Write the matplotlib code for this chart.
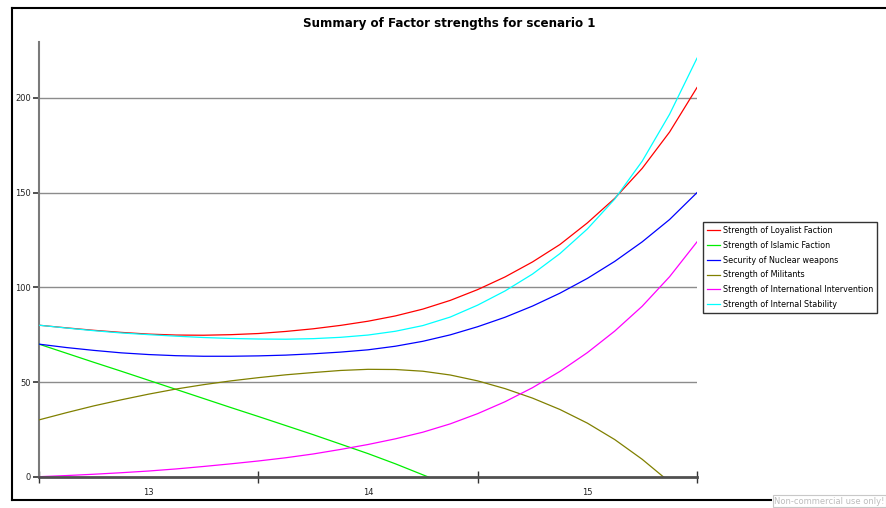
import matplotlib
matplotlib.use('Agg')
import matplotlib.pyplot as plt
import numpy as np
from matplotlib.lines import Line2D

# time axis (scenario steps)
steps = [12.5, 12.625, 12.75, 12.875, 13.0, 13.125, 13.25, 13.375, 13.5,
         13.625, 13.75, 13.875, 14.0, 14.125, 14.25, 14.375, 14.5,
         14.625, 14.75, 14.875, 15.0, 15.125, 15.25, 15.375, 15.5]

loyalist = [80.0, 78.6, 77.3, 76.2, 75.3, 74.8, 74.7, 75.0, 75.6,
            76.7, 78.1, 79.9, 82.1, 84.9, 88.5, 93.1, 98.8,
            105.5, 113.4, 122.6, 134.0, 147.0, 162.8, 182.0, 205.5]
islamic = [70.0, 65.2, 60.4, 55.7, 50.9, 46.1, 41.3, 36.5, 31.8,
           27.0, 22.2, 17.2, 12.2, 6.8, 1.0, -4.8, np.nan,
           np.nan, np.nan, np.nan, np.nan, np.nan, np.nan, np.nan, np.nan]
nuclear = [70.0, 68.2, 66.7, 65.4, 64.5, 63.9, 63.6, 63.6, 63.8,
           64.2, 64.9, 65.8, 67.0, 68.9, 71.5, 74.9, 79.2,
           84.2, 90.1, 96.9, 104.7, 113.7, 124.0, 135.8, 150.0]
militants = [30.0, 33.8, 37.4, 40.6, 43.6, 46.3, 48.6, 50.6, 52.3,
             53.8, 55.0, 56.1, 56.7, 56.6, 55.7, 53.7, 50.6,
             46.5, 41.5, 35.5, 28.3, 19.6, 9.2, -2.8, np.nan]
intervention = [0.0, 0.6, 1.3, 2.1, 3.0, 4.1, 5.4, 6.8, 8.3,
                10.0, 12.0, 14.4, 17.0, 20.0, 23.5, 27.9, 33.3,
                39.6, 47.0, 55.6, 65.5, 76.9, 90.0, 105.6, 124.0]
stability = [80.0, 78.5, 77.1, 75.9, 75.0, 74.2, 73.5, 73.0, 72.7,
             72.6, 72.9, 73.6, 74.8, 76.8, 79.8, 84.3, 90.6,
             98.1, 107.0, 117.8, 130.8, 146.6, 166.6, 191.4, 221.0]

series = [
    ('Strength of Loyalist Faction', loyalist, '#ff0000'),
    ('Strength of Islamic Faction', islamic, '#00ee00'),
    ('Security of Nuclear weapons', nuclear, '#0000ff'),
    ('Strength of Militants', militants, '#808000'),
    ('Strength of International Intervention', intervention, '#ff00ff'),
    ('Strength of Internal Stability', stability, '#00ffff'),
]

W, H = 886, 508
fig = plt.figure(figsize=(W / 100, H / 100), dpi=100)
fig.patch.set_facecolor('white')

ax = fig.add_axes([39 / W, (H - 476.7) / H, (697 - 39) / W, (476.7 - 41.7) / H])

for name, vals, col in series:
    ax.plot(steps, vals, color=col, linewidth=0.9, label=name, zorder=3)

ax.set_xlim(12.5, 15.5)
ax.set_ylim(0, 229.7)

# grid lines
for v in [50, 100, 150, 200]:
    ax.axhline(v, color='#8c8c8c', linewidth=1.0, zorder=1)

# spines
for s in ['top', 'right']:
    ax.spines[s].set_visible(False)
ax.spines['left'].set_color('#7a7a7a')
ax.spines['left'].set_linewidth(1.5)
ax.spines['bottom'].set_color('#505050')
ax.spines['bottom'].set_linewidth(2.0)
ax.spines['bottom'].set_zorder(4)

ax.set_yticks([0, 50, 100, 150, 200])
ax.tick_params(axis='y', direction='out', length=4, width=1.2, color='#333333',
               labelsize=6, pad=2, labelcolor='#222222')

ax.set_xticks([12.5, 13.5, 14.5, 15.5])
ax.set_xticklabels([])
ax.set_xticks([13, 14, 15], minor=True)
ax.set_xticklabels(['13', '14', '15'], minor=True)
ax.tick_params(axis='x', which='major', direction='inout', length=9, width=1.0, color='#333333')
ax.tick_params(axis='x', which='minor', length=0, labelsize=6, pad=8, labelcolor='#222222')

# legend
leg = ax.legend(loc='upper left', bbox_to_anchor=(703 / W, (H - 222) / H),
                bbox_transform=fig.transFigure, fontsize=5.8, frameon=True,
                fancybox=False, edgecolor='black', handlelength=1.6,
                handletextpad=0.4, labelspacing=0.72, borderpad=0.5,
                borderaxespad=0)
leg.get_frame().set_linewidth(1.0)

# title
fig.text(449 / W, 1 - 23 / H, 'Summary of Factor strengths for scenario 1',
         ha='center', va='center', fontsize=8.6, fontweight='bold')

# outer frame
frame_kw = dict(color='black', linewidth=1.5, transform=None)
fig.add_artist(Line2D([11.5, 11.5], [H - 8, H - 500], **frame_kw))
fig.add_artist(Line2D([11.5, W], [H - 8, H - 8], **frame_kw))
fig.add_artist(Line2D([11.5, 771], [H - 500, H - 500], **frame_kw))

# watermark
fig.text(774 / W, 2.5 / H, 'Non-commercial use only!', ha='left', va='bottom',
         fontsize=6.0, color='#bdbdbd',
         bbox=dict(boxstyle='square,pad=0.15', facecolor='white', edgecolor='#c8c8c8', linewidth=0.8))

plt.savefig('out.png', dpi=100, facecolor='white')
